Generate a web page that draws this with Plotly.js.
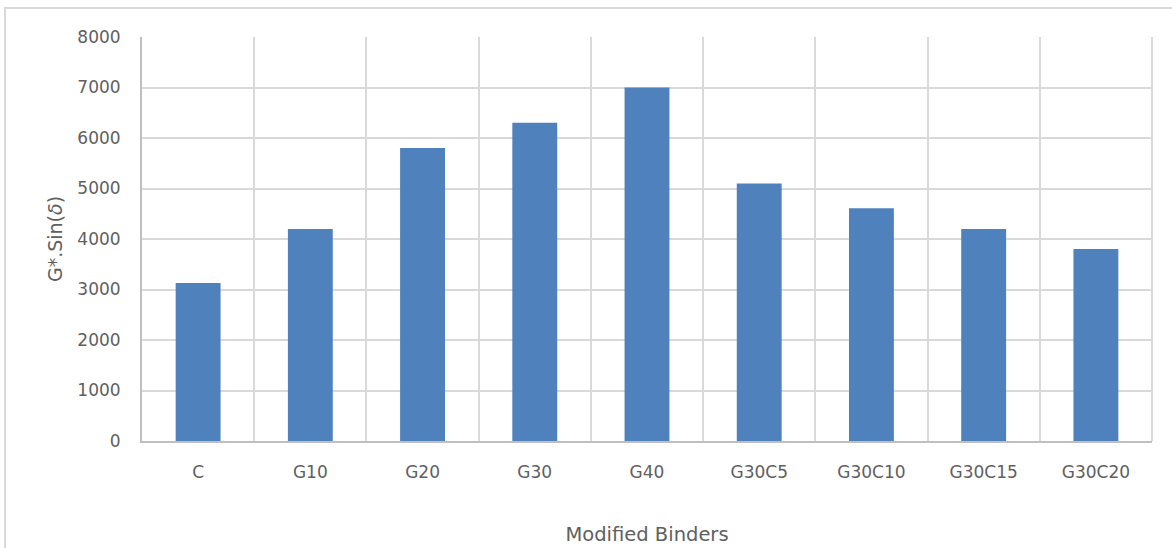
<!DOCTYPE html>
<html>
<head>
<meta charset="utf-8">
<script src="https://cdn.plot.ly/plotly-3.0.1.min.js"></script>
<style>
html,body{margin:0;padding:0;background:#fff;}
#wrap{position:relative;width:1172px;height:548px;overflow:hidden;}
#frame{position:absolute;left:4px;top:7px;width:1300px;height:700px;border:2px solid #d9d9d9;box-sizing:border-box;}
#chart{position:absolute;left:0;top:0;width:1172px;height:548px;}
</style>
</head>
<body>
<div id="wrap">
<div id="frame"></div>
<div id="chart"></div>
</div>
<script>
const categories = ["C","G10","G20","G30","G40","G30C5","G30C10","G30C15","G30C20"];
const values = [3130, 4200, 5800, 6300, 7000, 5100, 4610, 4200, 3800];
const yTicks = [0,1000,2000,3000,4000,5000,6000,7000,8000];

const font = "DejaVu Sans, sans-serif";
Plotly.newPlot("chart", [{
  type: "bar",
  x: categories,
  y: values,
  marker: {color: "#4f81bd"},
  hoverinfo: "x+y"
}], {
  width: 1172, height: 548,
  margin: {l: 142, r: 20, t: 37, b: 107},
  paper_bgcolor: "rgba(0,0,0,0)",
  plot_bgcolor: "#fff",
  bargap: 0.6,
  showlegend: false,
  font: {family: font, color: "#606060", size: 16},
  xaxis: {
    type: "category",
    tickson: "boundaries",
    showgrid: true, gridcolor: "#d9d9d9", gridwidth: 2,
    showline: true, linecolor: "#bfbfbf", linewidth: 2,
    ticks: "", ticklabelstandoff: 15,
    tickfont: {size: 17, color: "#606060"},
    title: {text: "Modified Binders", font: {size: 19.5, color: "#606060"}, standoff: 46},
    zeroline: false
  },
  yaxis: {
    range: [0, 8000],
    tickvals: yTicks,
    ticktext: yTicks.map(String),
    showgrid: true, gridcolor: "#d9d9d9", gridwidth: 2,
    showline: true, linecolor: "#bfbfbf", linewidth: 2,
    zeroline: false,
    ticks: "", ticklabelstandoff: 16,
    tickfont: {size: 17, color: "#606060"},
    title: {text: "G*.Sin(<i>δ</i>)", font: {size: 19, color: "#606060"}, standoff: 10}
  },
  shapes: [{
    type: "line", xref: "paper", yref: "paper", x0: 1, x1: 1, y0: 0, y1: 1,
    line: {color: "#d9d9d9", width: 2}
  }]
}, {displayModeBar: false, staticPlot: true});
</script>
</body>
</html>
